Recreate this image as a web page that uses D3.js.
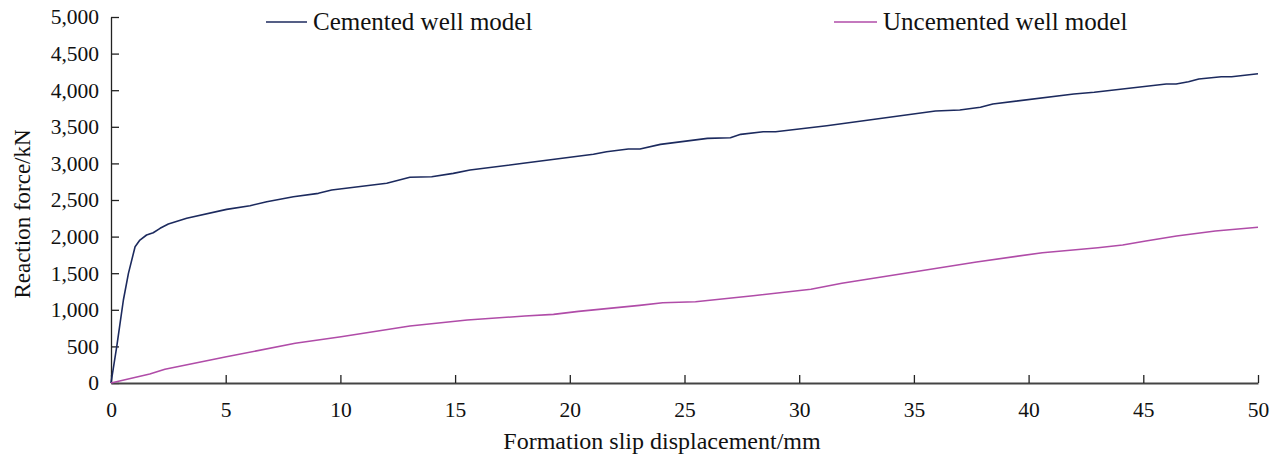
<!DOCTYPE html>
<html><head><meta charset="utf-8">
<script src="https://cdn.jsdelivr.net/npm/d3@7"></script>
<style>body{margin:0;background:#fff}svg{display:block}svg text{font-family:"Liberation Serif","Times New Roman",serif !important;fill:#111}</style>
</head><body><svg id="c" width="1284" height="462"></svg>
<script>
const xTicks = [0,5,10,15,20,25,30,35,40,45,50];
const yTicks = [0,500,1000,1500,2000,2500,3000,3500,4000,4500,5000];
const seriesNames = ["Cemented well model","Uncemented well model"];
const cementedX = [0,0.25,0.54,0.76,1.05,1.26,1.55,1.84,2.14,2.5,3.3,5.04,6.06,6.79,7.95,9.04,9.62,12.02,13.03,13.98,14.92,15.65,17.97,21.03,21.6,22.55,23.06,23.95,26.0,27.0,27.45,28.43,28.97,31.2,35.94,37.0,37.9,38.44,41.97,42.86,46.0,46.43,46.97,47.42,48.4,48.85,50];
const cementedY = [0,496,1134,1498,1862,1953,2022,2053,2113,2172,2250,2372,2422,2477,2545,2591,2637,2728,2810,2818,2864,2910,3001,3124,3160,3196,3196,3260,3342,3351,3397,3433,3433,3515,3715,3729,3766,3811,3948,3971,4084,4084,4116,4153,4184,4184,4225];
const uncementedX = [0,1.69,2.35,5.03,8.03,10.03,13.03,15.53,18.04,19.29,20.38,23.04,24.05,25.48,27.99,30.51,31.86,33.03,35.04,37.73,40.6,43.02,44.1,45.11,46.45,48.14,50];
const uncementedY = [0,123,187,359,542,632,779,861,915,938,979,1061,1097,1111,1193,1280,1362,1421,1520,1653,1780,1848,1885,1940,2008,2076,2127];
const colors = ["#1c2a5e","#b04ca8"];

const svg = d3.select("#c");
const x = d3.scaleLinear().domain([0,50]).range([111,1258]);
const y = d3.scaleLinear().domain([0,5000]).range([383,17]);
const fmt = d3.format(",");
const SERIF = '"Liberation Serif","Times New Roman",serif';

// Y axis
const ya = svg.append("g").attr("transform","translate(111,0)")
  .call(d3.axisLeft(y).tickValues(yTicks).tickFormat(fmt).tickSizeInner(-8).tickSizeOuter(0).tickPadding(12));
ya.attr("font-family",SERIF);
ya.select(".domain").attr("stroke","#222").attr("stroke-width",1.3);
ya.selectAll(".tick line").attr("stroke","#222").attr("stroke-width",1.3);
ya.selectAll("text").style("font-size","21.5px").style("font-family",SERIF).attr("fill","#111");

// X axis
const xa = svg.append("g").attr("transform","translate(0,383)")
  .call(d3.axisBottom(x).tickValues(xTicks).tickSizeInner(-8).tickSizeOuter(0).tickPadding(19));
xa.attr("font-family",SERIF);
xa.select(".domain").attr("stroke","#444").attr("stroke-width",2.2);
xa.selectAll(".tick line").attr("stroke","#222").attr("stroke-width",1.3);
xa.selectAll("text").style("font-size","21.5px").style("font-family",SERIF).attr("fill","#111");

// Lines
const line = d3.line().x(d=>x(d[0])).y(d=>y(d[1])).curve(d3.curveLinear);
const data = [d3.zip(cementedX,cementedY), d3.zip(uncementedX,uncementedY)];
data.forEach((d,i)=>{
  svg.append("path").datum(d).attr("d",line).attr("fill","none")
    .attr("stroke",colors[i]).attr("stroke-width",1.6).attr("stroke-linejoin","round");
});

// Axis titles
svg.append("text").attr("x",662).attr("y",449).attr("text-anchor","middle")
  .style("font-size","24px").style("font-family",SERIF).text("Formation slip displacement/mm");
svg.append("text").attr("transform","translate(30,214) rotate(-90)").attr("text-anchor","middle")
  .style("font-size","23px").style("font-family",SERIF).text("Reaction force/kN");

// Legend
const legX = [[266,307,313],[834,877,883]];
seriesNames.forEach((n,i)=>{
  svg.append("line").attr("x1",legX[i][0]).attr("x2",legX[i][1]).attr("y1",22).attr("y2",22)
    .attr("stroke",colors[i]).attr("stroke-width",1.6);
  svg.append("text").attr("x",legX[i][2]).attr("y",30).style("font-size","25px").style("font-family",SERIF).text(n);
});
</script></body></html>
